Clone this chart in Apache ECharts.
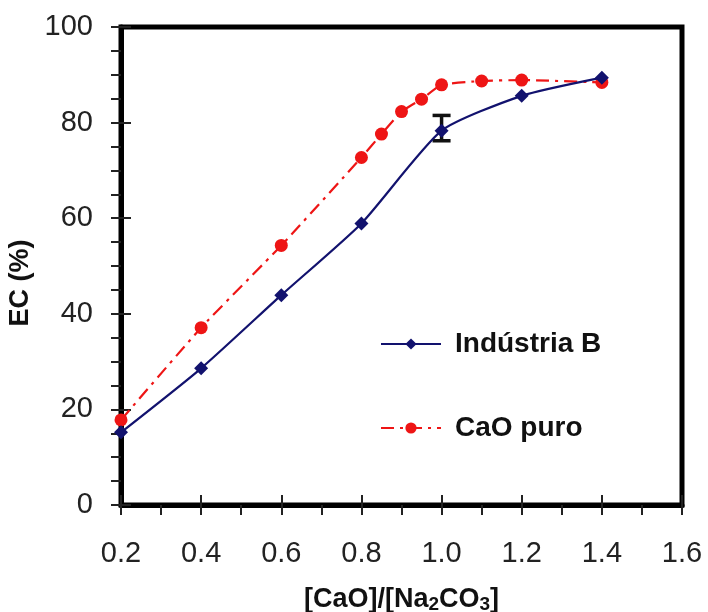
<!DOCTYPE html>
<html>
<head>
<meta charset="utf-8">
<script src="https://cdn.jsdelivr.net/npm/echarts@6/dist/echarts.min.js"></script>
<style>
  html, body { margin: 0; padding: 0; background: #fff; }
  #chart { width: 708px; height: 612px; }
</style>
</head>
<body>
<div id="chart"></div>
<script>
// [CaO]/[Na2CO3] ratios and conversion efficiency EC (%)
const industriaX = [0.2, 0.4, 0.6, 0.8, 1.0, 1.2, 1.4];
const industriaY = [15.2, 28.6, 43.9, 58.9, 78.3, 85.6, 89.4];

const caoX = [0.2, 0.4, 0.6, 0.8, 0.85, 0.9, 0.95, 1.0, 1.1, 1.2, 1.4];
const caoY = [17.8, 37.1, 54.3, 72.7, 77.6, 82.3, 84.9, 87.9, 88.7, 88.9, 88.4];

// error bar on the Indústria B point at ratio 1.0: [x, low, high]
const errorBars = [[1.0, 76.2, 81.5]];

const xTicks = { min: 0.2, max: 1.6, step: 0.2 };
const yTicks = { min: 0, max: 100, step: 20 };

const FONT = '"Liberation Sans", Arial, sans-serif';
const NAVY = '#12126e';
const RED = '#ee1515';

const pairs = (xs, ys) => xs.map((x, i) => [x, ys[i]]);

const chart = echarts.init(document.getElementById('chart'), null, { renderer: 'canvas' });

const baseX = {
  type: 'value', min: xTicks.min, max: xTicks.max, interval: xTicks.step,
  splitLine: { show: false }
};
const baseY = {
  type: 'value', min: yTicks.min, max: yTicks.max, interval: yTicks.step,
  splitLine: { show: false }
};

chart.setOption({
  animation: false,
  backgroundColor: '#fff',
  grid: {
    left: 121, right: 26, top: 27, bottom: 107,
    containLabel: false,
    outerBoundsMode: 'none',
    show: true, borderColor: '#000', borderWidth: 5
  },
  xAxis: [
    Object.assign({}, baseX, {
      position: 'bottom',
      axisLine: { show: true, lineStyle: { color: '#000', width: 5 } },
      axisTick: { show: true, inside: false, length: 10, lineStyle: { color: '#222', width: 2 } },
      minorTick: { show: true, splitNumber: 2, length: 10, lineStyle: { color: '#222', width: 2 } },
      axisLabel: {
        margin: 34, fontSize: 29, color: '#222', fontFamily: FONT,
        formatter: v => v.toFixed(1)
      },
      name: '{m|[CaO]/[Na}{s|2}{m|CO}{s|3}{m|]}',
      nameLocation: 'middle',
      nameGap: 80,
      nameTextStyle: {
        rich: {
          m: { fontSize: 27, fontWeight: 'bold', fontFamily: FONT, color: '#111' },
          s: { fontSize: 19, fontWeight: 'bold', fontFamily: FONT, color: '#111', padding: [10, 0, 0, 0] }
        }
      }
    }),
    Object.assign({}, baseX, {
      position: 'bottom',
      axisLine: { show: false },
      axisTick: { show: true, inside: true, length: 10, lineStyle: { color: '#222', width: 2 } },
      axisLabel: { show: false }
    })
  ],
  yAxis: [
    Object.assign({}, baseY, {
      position: 'left',
      axisLine: { show: true, lineStyle: { color: '#000', width: 5 } },
      axisTick: { show: true, inside: false, length: 10, lineStyle: { color: '#222', width: 2 } },
      minorTick: { show: true, splitNumber: 4, length: 10, lineStyle: { color: '#222', width: 2 } },
      axisLabel: { margin: 28, fontSize: 29, color: '#222', fontFamily: FONT },
      name: 'EC (%)',
      nameLocation: 'middle',
      nameGap: 84,
      nameTextStyle: {
        fontSize: 27, fontWeight: 'bold', fontFamily: FONT, color: '#111',
        padding: [0, 34, 0, 0]
      }
    }),
    Object.assign({}, baseY, {
      position: 'left',
      axisLine: { show: false },
      axisTick: { show: true, inside: true, length: 10, lineStyle: { color: '#222', width: 2 } },
      axisLabel: { show: false }
    })
  ],
  legend: [
    {
      data: ['Indústria B'],
      left: 380, top: 330, padding: 0,
      itemWidth: 60, itemHeight: 14, itemGap: 0,
      textStyle: { fontSize: 28, fontWeight: 'bold', fontFamily: FONT, color: '#111', padding: [0, 0, 0, 9] }
    },
    {
      data: ['CaO puro'],
      left: 380, top: 414, padding: 0,
      itemWidth: 60, itemHeight: 14, itemGap: 0,
      textStyle: { fontSize: 28, fontWeight: 'bold', fontFamily: FONT, color: '#111', padding: [0, 0, 0, 9] }
    }
  ],
  series: [
    {
      name: 'erro',
      type: 'custom',
      xAxisIndex: 0, yAxisIndex: 0,
      encode: { x: 0, y: [1, 2] },
      data: errorBars,
      z: 1,
      renderItem: (params, api) => {
        const x = api.value(0);
        const lo = api.coord([x, api.value(1)]);
        const hi = api.coord([x, api.value(2)]);
        const hw = 9;
        const st = { stroke: '#111', lineWidth: 3.5 };
        return {
          type: 'group',
          children: [
            { type: 'line', shape: { x1: lo[0], y1: lo[1], x2: hi[0], y2: hi[1] }, style: st },
            { type: 'line', shape: { x1: lo[0] - hw, y1: lo[1], x2: lo[0] + hw, y2: lo[1] }, style: st },
            { type: 'line', shape: { x1: hi[0] - hw, y1: hi[1], x2: hi[0] + hw, y2: hi[1] }, style: st }
          ]
        };
      }
    },
    {
      name: 'CaO puro',
      type: 'line',
      xAxisIndex: 0, yAxisIndex: 0,
      data: pairs(caoX, caoY),
      smooth: 0.15,
      symbol: 'circle',
      symbolSize: 13,
      z: 3,
      lineStyle: { color: RED, width: 2.2, type: [13, 6, 3, 6] },
      itemStyle: { color: RED, borderWidth: 0 }
    },
    {
      name: 'Indústria B',
      type: 'line',
      xAxisIndex: 0, yAxisIndex: 0,
      data: pairs(industriaX, industriaY),
      smooth: 0.2,
      symbol: 'diamond',
      symbolSize: 14,
      z: 4,
      lineStyle: { color: NAVY, width: 2.2 },
      itemStyle: { color: NAVY, borderWidth: 0 }
    }
  ]
});
</script>
</body>
</html>
